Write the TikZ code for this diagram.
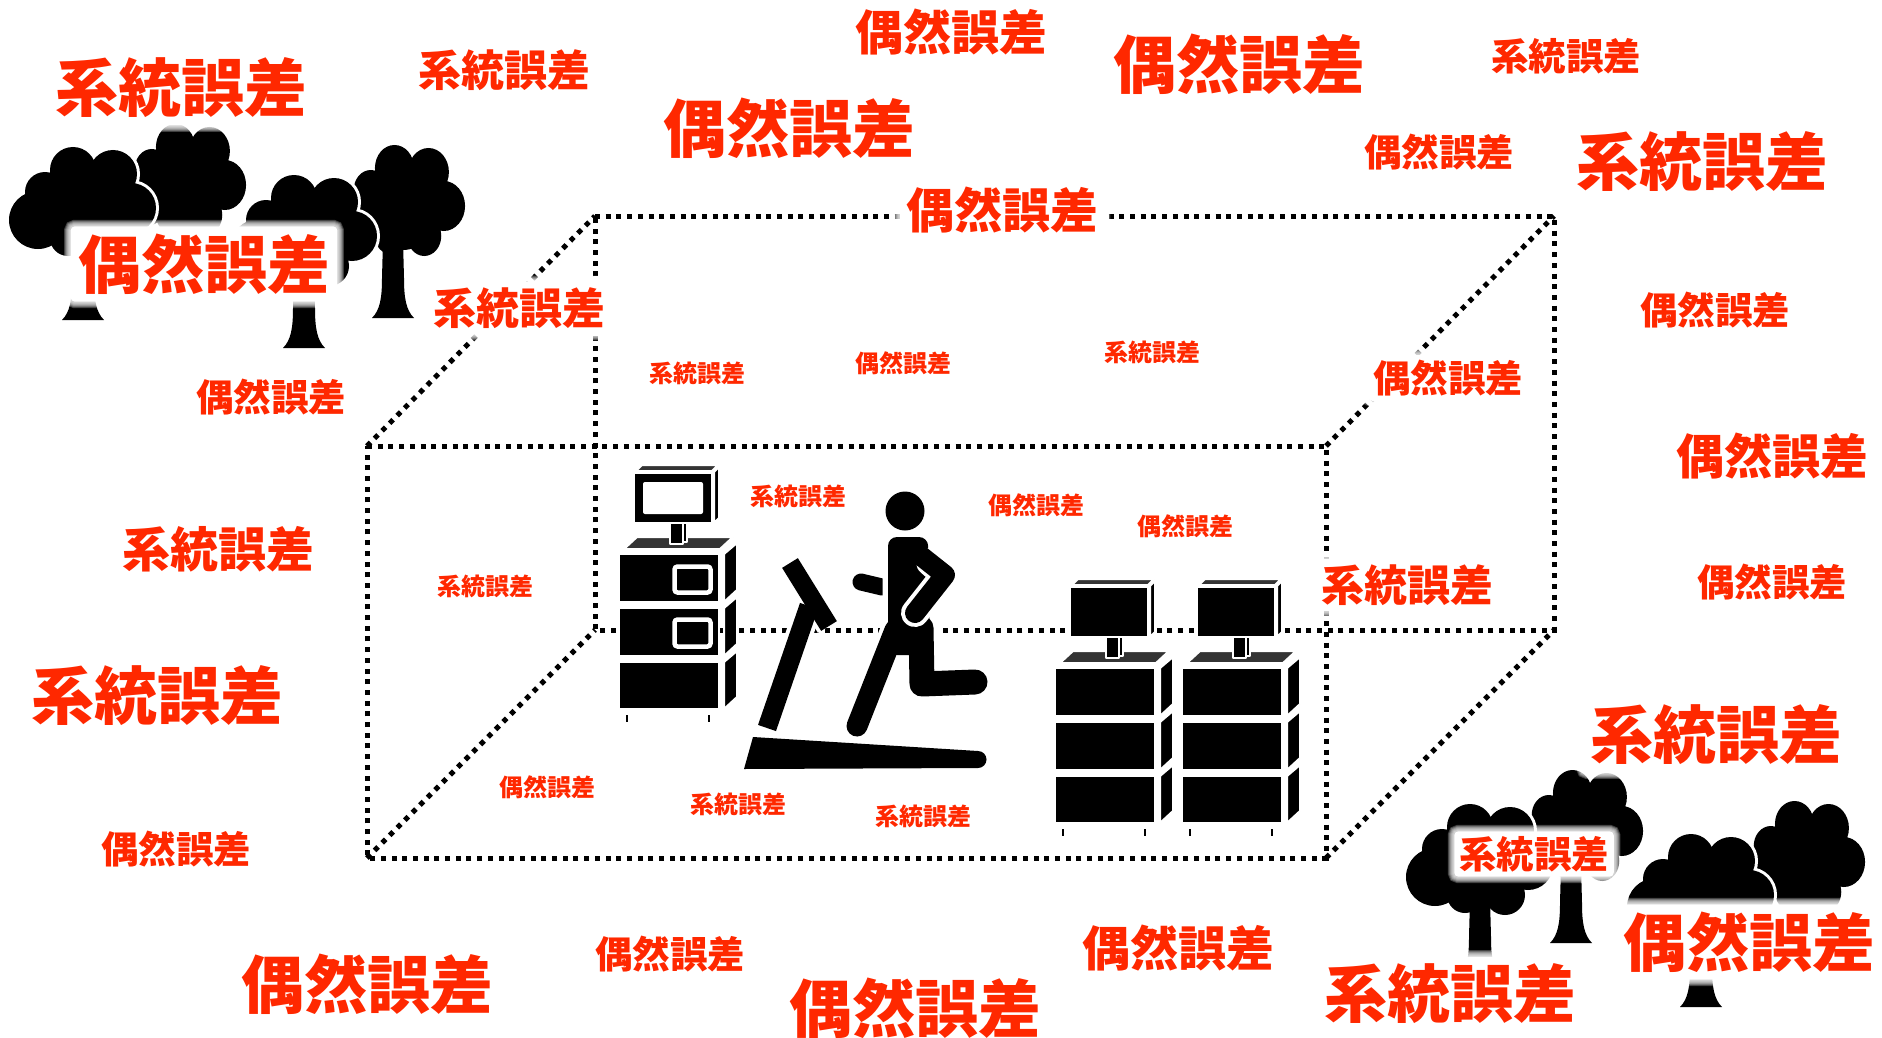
\documentclass[tikz,border=0pt]{standalone}
\usepackage{fontspec}
\newfontfamily\jpfont{Noto Sans CJK JP}
\definecolor{errred}{RGB}{255,40,0}
\definecolor{lidgray}{RGB}{52,52,52}

% tree canopy as a union of discs, trunk with a flared foot (local units, y up)
\newcommand\canopypath{(-45,100) circle[radius=29] (-38,128) circle[radius=20]
  (-10,150) circle[radius=23] (30,146) circle[radius=24] (48,112) circle[radius=25]
  (0,108) circle[radius=40] (-15,82) circle[radius=18] (25,82) circle[radius=20]}
\newcommand\trunkpath{(-21,0) .. controls (-13,8) and (-11,20) .. (-11,40)
  -- (-10,78) -- (10,78) -- (11,40) .. controls (11,20) and (13,8) .. (21,0) -- cycle}

\newcommand\fronttree[2]{%
  \begin{scope}[shift={(#1,#2)}, yscale=-1]
    \draw[white, line width=6pt] \canopypath;
    \draw[white, line width=6pt] \trunkpath;
    \fill \canopypath;
    \fill \trunkpath;
  \end{scope}}
\newcommand\backtree[2]{%
  \begin{scope}[shift={(#1,#2)}, yscale=-1]
    \fill \trunkpath;
    \begin{scope}[xshift=10pt, xscale=0.85]
      \fill \canopypath;
    \end{scope}
  \end{scope}}

% lab cabinet with monitor; origin = top-left corner of the upper drawer
\newcommand\cabinet[2]{%
  \begin{scope}[shift={(#1,#2)}]
    \path[lid] (5,-5) -- (101,-5) -- (114,-17) -- (18,-17) -- cycle;
    \path[lid] (17,-83) -- (93,-83) -- (99,-89) -- (23,-89) -- cycle;
    \path[part] (15,-81) rectangle (93,-31);
    \path[part] (95,-82) -- (100,-87) -- (100,-36) -- (95,-31) -- cycle;
    \path[part] (51,-31) rectangle (64,-10);
    \path[part] (64,-31) rectangle (68,-12);
    \foreach \t/\b in {0/48,54/102,108/155} {
      \path[part] (0,\t) rectangle (100,\b);
      \path[part] (105,\t) -- (118,\t-11) -- (118,\b-12) -- (105,\b) -- cycle;
    }
    \draw[line width=2.5pt] (8,161) -- (8,168) (90,161) -- (90,168);
  \end{scope}}

\begin{document}
\begin{tikzpicture}[x=1pt, y=-1pt,
  err/.style={text=errred, fill=white,
    font=\jpfont\bfseries\fontsize{#1pt}{#1pt}\selectfont,
    inner sep={0.1*#1pt+1pt}, rounded corners=4pt,
    preaction={draw=white, draw opacity=0.25, line width=13pt},
    preaction={draw=white, draw opacity=0.25, line width=11pt},
    preaction={draw=white, draw opacity=0.25, line width=9pt},
    preaction={draw=white, draw opacity=0.25, line width=7pt},
    preaction={draw=white, draw opacity=0.25, line width=5pt},
    preaction={draw=white, draw opacity=0.25, line width=3pt}},
  errL/.style={err=63}, errML/.style={err=48}, errM/.style={err=43},
  errS/.style={err=37.5}, errXS/.style={err=24},
  dotline/.style={line width=5pt, dash pattern=on 5pt off 5.7pt},
  part/.style={fill=black, draw=white, line width=2pt, line join=round},
  lid/.style={fill=lidgray, draw=white, line width=2pt, line join=round}]

\fill[white] (0,0) rectangle (1882,1038);
\useasboundingbox (0,0) rectangle (1882,1038);

% dotted room box
\coordinate (F1) at (367,446);  \coordinate (F2) at (1326,446);
\coordinate (F3) at (1326,858); \coordinate (F4) at (367,858);
\coordinate (B1) at (595,216);  \coordinate (B2) at (1554,216);
\coordinate (B3) at (1554,630); \coordinate (B4) at (595,630);
\draw[dotline] (B1) -- (B2) -- (B3) -- (B4) -- cycle;
\draw[dotline] (F1) -- (F2) -- (F3) -- (F4) -- cycle;
\draw[dotline] (F1) -- (B1);
\draw[dotline] (F2) -- (B2);
\draw[dotline] (F3) -- (B3);
\draw[dotline] (F4) -- (B4);

% trees
\backtree{174}{297}
\backtree{393}{318}
\backtree{1571}{943}
\backtree{1793}{974}
\fronttree{83}{320}
\fronttree{304}{348}
\fronttree{1480}{977}
\fronttree{1701}{1007}

% cabinets
\cabinet{619}{554}
\begin{scope}[shift={(619,554)}]
  \fill[white, rounded corners=2pt] (24,-72) rectangle (84,-40);
  \draw[white, line width=4.5pt, rounded corners=3pt]
    (55.5,12.5) rectangle (91.5,38.5) (55.5,65.5) rectangle (91.5,92.5);
\end{scope}
\cabinet{1055}{668}
\cabinet{1182}{668}

% treadmill
\fill (744,769) -- (753,737) -- (978,751) arc[start angle=-90, end angle=90, radius=8.5] -- cycle;
\draw[white, line width=27pt] (767,728) -- (809,606);
\draw[white, line width=26pt] (790,563) -- (829,626);
\draw[line width=19pt] (767,728) -- (809,606);
\draw[line width=18.5pt] (790,563) -- (829,626);

% runner
\draw[white, line width=25pt, line cap=round] (861,582) -- (882,587);
\draw[line width=17pt, line cap=round] (861,582) -- (882,587);
\draw[white, line width=11pt, rounded corners=9pt] (888,655) -- (888,537) -- (928,537) -- (930,655) -- cycle;
\draw[white, line width=29pt, line cap=round] (895,630) -- (857,726);
\draw[white, line width=33pt, line cap=round, line join=round] (921,628) -- (922,684) -- (975,682);
\fill[rounded corners=9pt] (888,655) -- (888,537) -- (928,537) -- (930,655) -- cycle;
\draw[line width=21pt, line cap=round] (895,630) -- (857,726);
\draw[line width=25pt, line cap=round, line join=round] (921,628) -- (922,684) -- (975,682);
\draw[white, line width=28pt, line cap=round, line join=round] (930,562) -- (945,575) -- (915,613);
\draw[line width=20pt, line cap=round, line join=round] (916,552) -- (945,575) -- (915,613);
\fill (905,511) circle[radius=19.5];

% error labels
\node[errL]  (e1)  at (181,88)   {系統誤差};
\node[errM]  (e2)  at (504,70)   {系統誤差};
\node[errML] (e3)  at (951,32)   {偶然誤差};
\node[errL]  (e4)  at (1239,64)  {偶然誤差};
\node[errS]  (e5)  at (1566,56)  {系統誤差};
\node[errL]  (e6)  at (789,128)  {偶然誤差};
\node[errS]  (e7)  at (1439,152) {偶然誤差};
\node[errL]  (e8)  at (1702,162) {系統誤差};
\node[errML] (e9)  at (1002,210) {偶然誤差};
\node[errL]  (e10) at (204,264)  {偶然誤差};
\node[errM]  (e11) at (519,308)  {系統誤差};
\node[errS]  (e12) at (1715,310) {偶然誤差};
\node[errXS] (e13) at (697,373)  {系統誤差};
\node[errXS] (e14) at (903,363)  {偶然誤差};
\node[errXS] (e15) at (1152,352) {系統誤差};
\node[errS]  (e16) at (1448,378) {偶然誤差};
\node[errS]  (e17) at (271,397)  {偶然誤差};
\node[errML] (e18) at (1772,456) {偶然誤差};
\node[errXS] (e19) at (798,496)  {系統誤差};
\node[errXS] (e20) at (1036,505) {偶然誤差};
\node[errXS] (e21) at (1185,526) {偶然誤差};
\node[errML] (e22) at (218,549)  {系統誤差};
\node[errXS] (e23) at (485,586)  {系統誤差};
\node[errS]  (e24) at (1772,582) {偶然誤差};
\node[errM]  (e25) at (1407,585) {系統誤差};
\node[errL]  (e26) at (157,696)  {系統誤差};
\node[errL]  (e27) at (1716,735) {系統誤差};
\node[errXS] (e28) at (547,787)  {偶然誤差};
\node[errXS] (e29) at (738,804)  {系統誤差};
\node[errXS] (e30) at (923,816)  {系統誤差};
\node[errS]  (e31) at (176,849)  {偶然誤差};
\node[errS]  (e32) at (1534,854) {系統誤差};
\node[errL]  (e33) at (367,984)  {偶然誤差};
\node[errS]  (e34) at (670,954)  {偶然誤差};
\node[errML] (e35) at (1178,948) {偶然誤差};
\node[errL]  (e36) at (915,1008) {偶然誤差};
\node[errL]  (e37) at (1450,994) {系統誤差};
\node[errL]  (e38) at (1749,942) {偶然誤差};
\end{tikzpicture}
\end{document}
